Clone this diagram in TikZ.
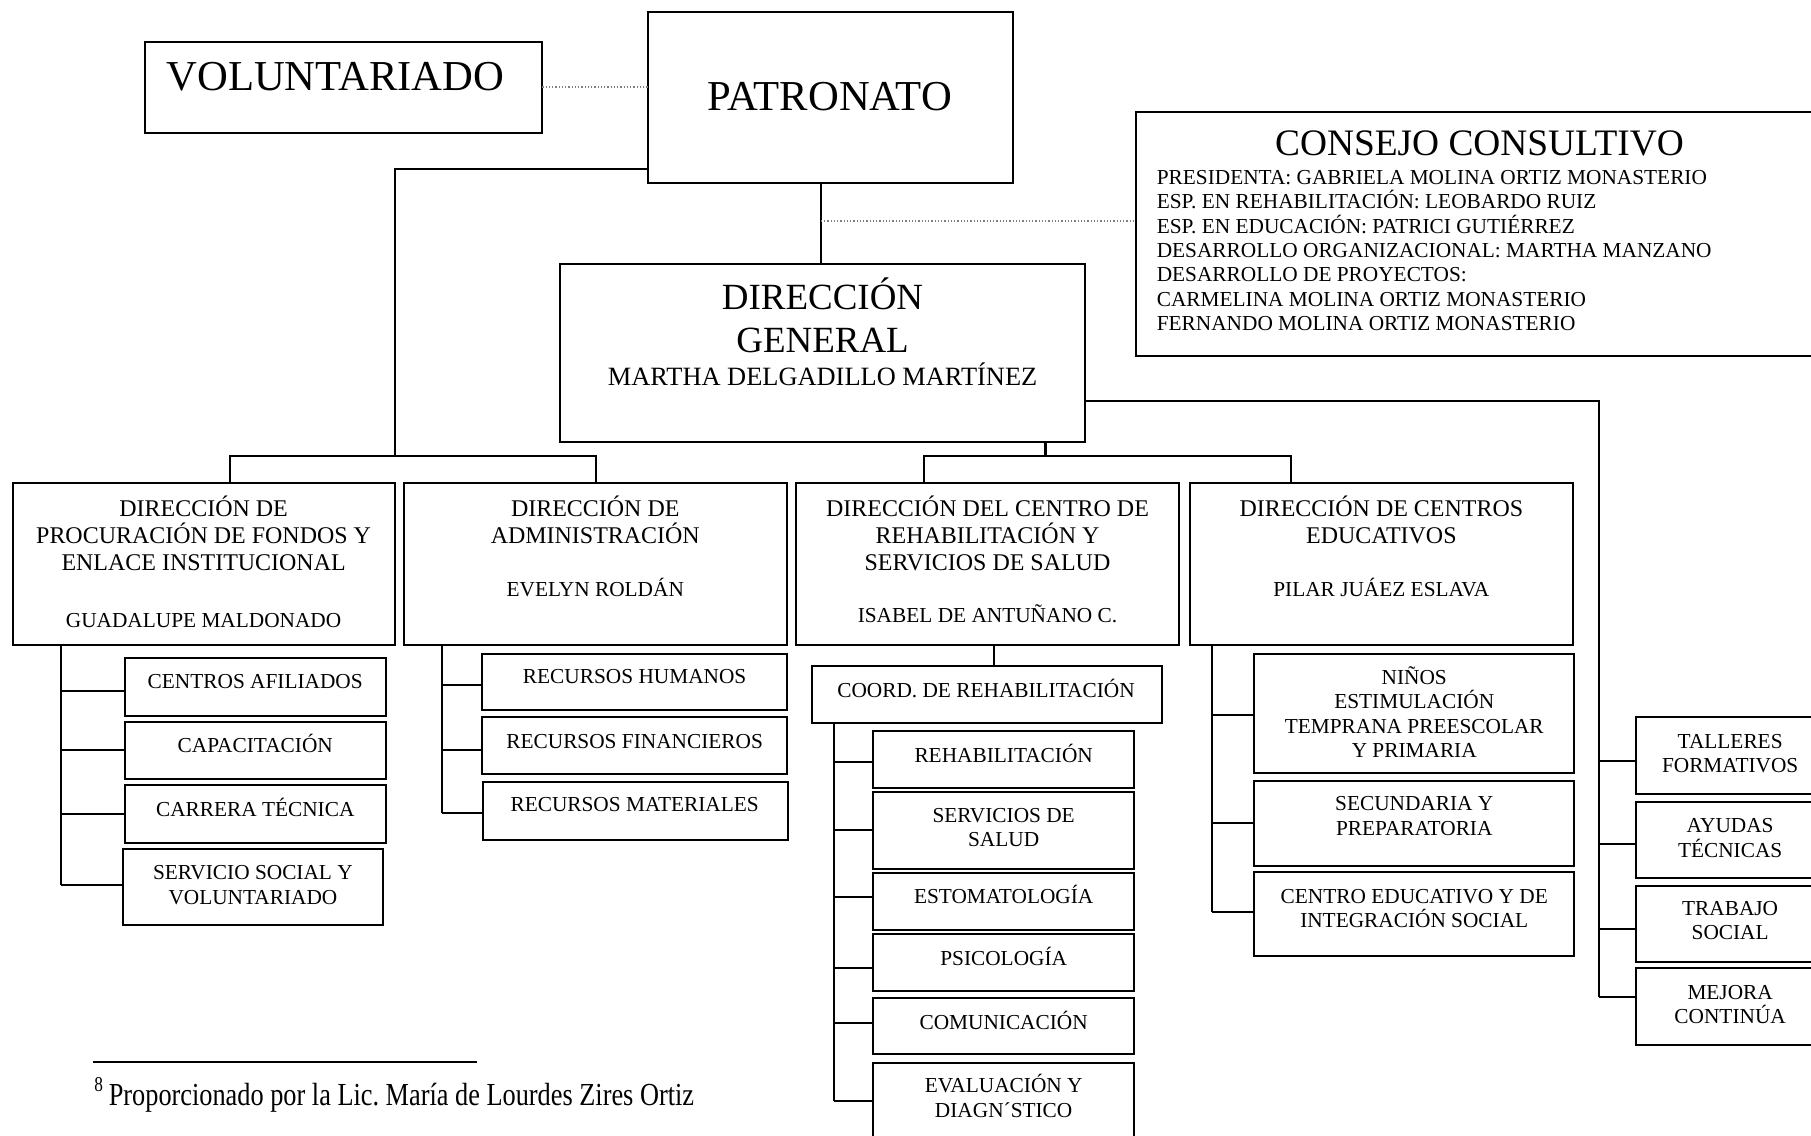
\documentclass[tikz,border=0pt]{standalone}
\usepackage{fontspec}
\setmainfont{Liberation Serif}
\newfontfamily\footfont[FakeStretch=0.82]{Liberation Serif}
\usetikzlibrary{calc}
\newcommand\orgbox[5]{%
  \node[box,minimum width={(#4-#2)*0.01cm},minimum height={(#5-#3)*0.01cm}] (#1) at ({(#2+#4)/2},{(#3+#5)/2}) {};}
\newcommand\orgbranch[3]{%
  \coordinate (#1br) at (#2,#3);
  \draw[ln] (#1br) -- (#1br -| #1.west);}
\begin{document}
\begin{tikzpicture}[x=0.01cm,y=-0.01cm,
  box/.style={draw=black,line width=0.5pt,rectangle,inner sep=0pt,outer sep=0pt},
  ln/.style={draw=black,line width=0.5pt},
  dotln/.style={draw=gray,line width=0.35pt,dash pattern=on 0.3pt off 0.5pt},
  tx/.style={inner sep=0pt,outer sep=0pt,align=center,text=black},
  fA/.style={font=\fontsize{10.5}{12}\selectfont},
  fB/.style={font=\fontsize{9.1}{10.5}\selectfont},
  fC/.style={font=\fontsize{9.2}{11}\selectfont},
  fD/.style={font=\fontsize{6.5}{7.5}\selectfont},
  fE/.style={font=\fontsize{5.9}{6.65}\selectfont},
  fF/.style={font=\fontsize{5.25}{6.0}\selectfont}]
\useasboundingbox (0,0) rectangle (1568,983);
\clip (0,0) rectangle (1568,983);
\fill[white] (0,0) rectangle (1568,983);

% ---------- boxes ----------
\orgbox{vol}{125.5}{36}{469.6}{115}
\orgbox{pat}{561}{10.1}{876.7}{158.2}
\orgbox{cc}{983.6}{96.7}{1580}{308.2}
\orgbox{dg}{485}{228.6}{939.4}{383}
\orgbox{b1}{11}{418}{341.6}{558.4}
\orgbox{b2}{349.8}{418}{681}{558.4}
\orgbox{b3}{689}{418}{1020.8}{558.4}
\orgbox{b4}{1030}{418}{1362}{558.4}

\orgbox{c11}{108.2}{569.4}{334}{619.6}
\orgbox{c12}{108.2}{624.8}{334}{674.7}
\orgbox{c13}{108.2}{680}{334}{730.2}
\orgbox{c14}{106.2}{735.4}{331.9}{800.9}

\orgbox{c21}{417.5}{566}{681.5}{615}
\orgbox{c22}{417.5}{621}{681.5}{670}
\orgbox{c23}{417.9}{677}{682}{727}

\orgbox{crd}{703}{577}{1006}{626}
\orgbox{c31}{756}{633}{982}{682}
\orgbox{c32}{756}{686}{982}{752}
\orgbox{c33}{756}{756}{982}{805}
\orgbox{c34}{756}{809}{982}{858}
\orgbox{c35}{756}{864}{982}{913}
\orgbox{c36}{756}{920}{982}{995}

\orgbox{c41}{1086}{566}{1363}{669}
\orgbox{c42}{1086}{676}{1363}{750}
\orgbox{c43}{1086}{755}{1363}{828}

\orgbox{r1}{1416.5}{621}{1580}{687.5}
\orgbox{r2}{1416.5}{694}{1580}{760.5}
\orgbox{r3}{1416.5}{766.8}{1580}{832.6}
\orgbox{r4}{1416.5}{838.4}{1580}{904.8}

% ---------- texts ----------
\node[tx,fA] (tvol) at (290.4,66.8) {VOLUNTARIADO};
\node[tx,fA] (tpat) at (718.6,83.5) {PATRONATO};
\node[tx,fB] (tdg) at (712.2,273) {DIRECCIÓN\\GENERAL};
\node[tx,fD] (tdgn) at (712.2,324) {MARTHA DELGADILLO MARTÍNEZ};
\node[tx,fC] (tcc) at (1281,124) {CONSEJO CONSULTIVO};
\node[tx,fF,align=left,anchor=west] (tccl) at (1001.6,217) {PRESIDENTA: GABRIELA MOLINA ORTIZ MONASTERIO\\ESP. EN REHABILITACIÓN: LEOBARDO RUIZ\\ESP. EN EDUCACIÓN: PATRICI GUTIÉRREZ\\DESARROLLO ORGANIZACIONAL: MARTHA MANZANO\\DESARROLLO DE PROYECTOS:\\CARMELINA MOLINA ORTIZ MONASTERIO\\FERNANDO MOLINA ORTIZ MONASTERIO};

\node[tx,fE] (tb1) at (176.3,461.5) {DIRECCIÓN DE\\PROCURACIÓN DE FONDOS Y\\ENLACE INSTITUCIONAL};
\node[tx,fF] (nb1) at (176.3,537) {GUADALUPE MALDONADO};
\node[tx,fE] (tb2) at (515.4,449.8) {DIRECCIÓN DE\\ADMINISTRACIÓN};
\node[tx,fF] (nb2) at (515.4,508.5) {EVELYN ROLDÁN};
\node[tx,fE] (tb3) at (855,461.5) {DIRECCIÓN DEL CENTRO DE\\REHABILITACIÓN Y\\SERVICIOS DE SALUD};
\node[tx,fF] (nb3) at (855,531.5) {ISABEL DE ANTUÑANO C.};
\node[tx,fE] (tb4) at (1196,449.8) {DIRECCIÓN DE CENTROS\\EDUCATIVOS};
\node[tx,fF] (nb4) at (1196,508.5) {PILAR JUÁEZ ESLAVA};

\node[tx,fF] (tc11) at (221,590.2) {CENTROS AFILIADOS};
\node[tx,fF] (tc12) at (221,644) {CAPACITACIÓN};
\node[tx,fF] (tc13) at (221,699.3) {CARRERA TÉCNICA};
\node[tx,fF] (tc14) at (219,766.2) {SERVICIO SOCIAL Y\\VOLUNTARIADO};

\node[tx,fF] (tc21) at (549.5,586) {RECURSOS HUMANOS};
\node[tx,fF] (tc22) at (549.5,642) {RECURSOS FINANCIEROS};
\node[tx,fF] (tc23) at (549.5,697) {RECURSOS MATERIALES};

\node[tx,fF] (tcrd) at (853.7,595.7) {COORD. DE REHABILITACIÓN};
\node[tx,fF] (tc31) at (869,652.7) {REHABILITACIÓN};
\node[tx,fF] (tc32) at (869,716.5) {SERVICIOS DE\\SALUD};
\node[tx,fF] (tc33) at (869,774.7) {ESTOMATOLOGÍA};
\node[tx,fF] (tc34) at (869,827.7) {PSICOLOGÍA};
\node[tx,fF] (tc35) at (869,883.7) {COMUNICACIÓN};
\node[tx,fF] (tc36) at (869,949) {EVALUACIÓN Y\\DIAGN´STICO};

\node[tx,fF] (tc41) at (1224.5,616.5) {NIÑOS\\ESTIMULACIÓN\\TEMPRANA PREESCOLAR\\Y PRIMARIA};
\node[tx,fF] (tc42) at (1224.5,706.5) {SECUNDARIA Y\\PREPARATORIA};
\node[tx,fF] (tc43) at (1224.5,786.5) {CENTRO EDUCATIVO Y DE\\INTEGRACIÓN SOCIAL};

\node[tx,fF] (tr1) at (1498,652.5) {TALLERES\\FORMATIVOS};
\node[tx,fF] (tr2) at (1498,725.5) {AYUDAS\\TÉCNICAS};
\node[tx,fF] (tr3) at (1498,797) {TRABAJO\\SOCIAL};
\node[tx,fF] (tr4) at (1498,869.5) {MEJORA\\CONTINÚA};

% ---------- connectors ----------
\draw[dotln] (vol.east) -- (vol.east -| pat.west);
\coordinate (pv) at (710.8,191.4);
\draw[ln] (pv |- pat.south) -- (pv |- dg.north);
\draw[dotln] (pv) -- (pv -| cc.west);

\coordinate (pj) at (342.4,146);
\coordinate (barA) at (342.4,394.5);
\draw[ln] (pat.west |- pj) -- (pj) -- (barA);
\coordinate (a1) at (199,394.5);
\coordinate (a2) at (516,394.5);
\draw[ln] (a1 |- b1.north) -- (a1) -- (a2) -- (a2 |- b2.north);

\coordinate (d1) at (800,394.5);
\coordinate (d2) at (1118,394.5);
\coordinate (dj) at (905.2,394.5);
\draw[ln] (d1 |- b3.north) -- (d1) -- (d2) -- (d2 |- b4.north);
\draw[ln] (dj |- dg.south) -- (dj);

% trunk 1
\orgbranch{c11}{52.5}{598.3}
\orgbranch{c12}{52.5}{649.4}
\orgbranch{c13}{52.5}{704.8}
\orgbranch{c14}{52.5}{766.2}
\draw[ln] (c14br |- b1.south) -- (c14br);
% trunk 2
\orgbranch{c21}{383}{593}
\orgbranch{c22}{383}{649}
\orgbranch{c23}{383}{704}
\draw[ln] (c23br |- b2.south) -- (c23br);
% trunk 3
\coordinate (v3) at (861,570);
\draw[ln] (v3 |- b3.south) -- (v3 |- crd.north);
\orgbranch{c31}{722}{660}
\orgbranch{c32}{722}{719}
\orgbranch{c33}{722}{777}
\orgbranch{c34}{722}{838}
\orgbranch{c35}{722}{886}
\orgbranch{c36}{722}{953}
\draw[ln] (c36br |- crd.south) -- (c36br);
% trunk 4
\orgbranch{c41}{1049}{619}
\orgbranch{c42}{1049}{713}
\orgbranch{c43}{1049}{789.5}
\draw[ln] (c43br |- b4.south) -- (c43br);
% right trunk
\coordinate (rj) at (1384.4,347.2);
\orgbranch{r1}{1384.4}{658.6}
\orgbranch{r2}{1384.4}{730.7}
\orgbranch{r3}{1384.4}{804.6}
\orgbranch{r4}{1384.4}{863.5}
\draw[ln] (dg.east |- rj) -- (rj) -- (r4br);

% ---------- footnote ----------
\coordinate (fnl) at (80.5,919.2);
\coordinate (fnr) at (413.4,919.2);
\draw[line width=0.5pt] (fnl) -- (fnr);
\node[inner sep=0pt,outer sep=0pt,anchor=base west] (fn) at (81.8,957.6)
  {\footfont\fontsize{7.9}{9}\selectfont\raisebox{3.6pt}{\fontsize{5.2}{6}\selectfont 8}\hspace{1.4pt}Proporcionado por la Lic.\ María de Lourdes Zires Ortiz};
\end{tikzpicture}
\end{document}
